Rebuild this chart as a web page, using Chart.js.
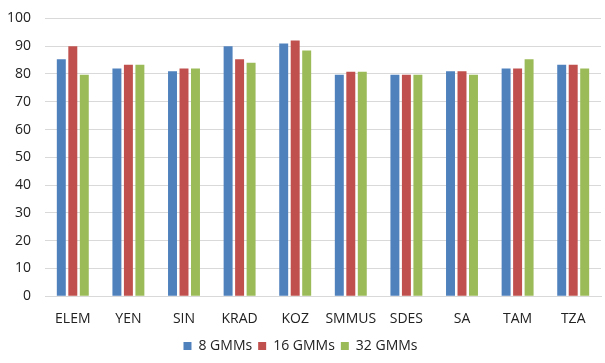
<!DOCTYPE html>
<html>
<head>
<meta charset="utf-8">
<script src="https://cdn.jsdelivr.net/npm/chart.js@4"></script>
<style>
  html, body { margin: 0; padding: 0; background: #fff; overflow: hidden; }
  #wrap { width: 605px; height: 367px; position: relative; top: -4px; }
</style>
</head>
<body>
<div id="wrap"><canvas id="chart"></canvas></div>
<script>
const categories = ['ELEM', 'YEN', 'SIN', 'KRAD', 'KOZ', 'SMMUS', 'SDES', 'SA', 'TAM', 'TZA'];
const gmm8  = [85.3, 82, 81, 90, 91, 79.7, 79.7, 81, 82, 83.3];
const gmm16 = [90, 83.3, 82, 85.3, 92, 80.8, 79.7, 81, 82, 83.3];
const gmm32 = [79.7, 83.3, 82, 84, 88.4, 80.8, 79.7, 79.7, 85.3, 82];
const yTicks = [0, 10, 20, 30, 40, 50, 60, 70, 80, 90, 100];

const font = { family: 'Open Sans, Liberation Sans, sans-serif', size: 14 };

const ctx = document.getElementById('chart').getContext('2d');
new Chart(ctx, {
  type: 'bar',
  data: {
    labels: categories,
    datasets: [
      { label: '8 GMMs', data: gmm8, backgroundColor: '#4f81bd' },
      { label: '16 GMMs', data: gmm16, backgroundColor: '#c0504d' },
      { label: '32 GMMs', data: gmm32, backgroundColor: '#9bbb59' }
    ]
  },
  options: {
    responsive: true,
    maintainAspectRatio: false,
    animation: false,
    categoryPercentage: 0.62,
    barPercentage: 0.78,
    layout: { padding: { top: 0, right: 4, left: 0, bottom: 0 } },
    plugins: {
      tooltip: { enabled: false },
      legend: {
        position: 'bottom',
        labels: {
          color: '#222',
          font: font,
          boxWidth: 8,
          boxHeight: 8,
          padding: 6
        }
      }
    },
    scales: {
      x: {
        grid: { display: false },
        border: { color: '#d9d9d9' },
        ticks: { color: '#222', font: font, padding: 6, minRotation: 0, maxRotation: 0, autoSkip: false }
      },
      y: {
        min: 0,
        max: 100,
        afterBuildTicks: axis => { axis.ticks = yTicks.map(v => ({ value: v })); },
        afterFit: axis => { axis.width = 45; },
        grid: { color: '#d9d9d9', drawTicks: false },
        border: { display: false },
        ticks: { color: '#222', font: font, padding: 14 }
      }
    }
  }
});
</script>
</body>
</html>
